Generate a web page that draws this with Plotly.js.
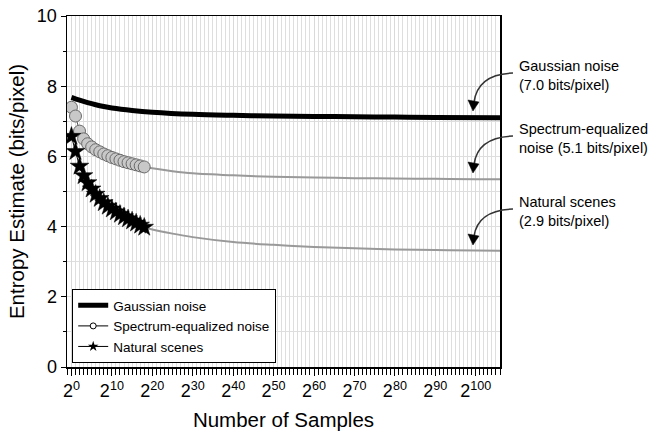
<!DOCTYPE html>
<html><head><meta charset="utf-8">
<script src="https://cdn.plot.ly/plotly-3.0.1.min.js"></script>
<style>html,body{margin:0;padding:0;background:#fff}#chart{width:649px;height:432px}</style>
</head><body><div id="chart"></div>
<script>
// log2(number of samples)
const gaussX = [0, 2, 4, 6, 8, 10, 15, 20, 30, 40, 50, 60, 70, 80, 90, 106];
const gaussY = [7.68, 7.60, 7.53, 7.47, 7.42, 7.38, 7.31, 7.26, 7.20, 7.17, 7.15, 7.14, 7.13, 7.12, 7.11, 7.10];

const specMarkX = [0,1,2,3,4,5,6,7,8,9,10,11,12,13,14,15,16,17,18];
const specMarkY = [7.40, 7.15, 6.72, 6.50, 6.36, 6.27, 6.19, 6.13, 6.07, 6.02, 5.97, 5.93, 5.89, 5.85, 5.82, 5.79, 5.76, 5.73, 5.70];
const specLineX = [18, 20, 25, 30, 40, 50, 60, 70, 80, 90, 100, 106];
const specLineY = [5.70, 5.66, 5.58, 5.52, 5.46, 5.42, 5.40, 5.38, 5.37, 5.36, 5.35, 5.35];

const natMarkX = [0,1,2,3,4,5,6,7,8,9,10,11,12,13,14,15,16,17,18];
const natMarkY = [6.57, 6.14, 5.72, 5.45, 5.25, 5.07, 4.92, 4.80, 4.68, 4.58, 4.50, 4.42, 4.35, 4.28, 4.22, 4.16, 4.10, 4.04, 3.98];
const natLineX = [18, 20, 25, 30, 40, 50, 60, 70, 80, 90, 100, 106];
const natLineY = [3.98, 3.92, 3.80, 3.70, 3.56, 3.48, 3.42, 3.38, 3.35, 3.33, 3.32, 3.31];

const xTickVals = [0,10,20,30,40,50,60,70,80,90,100];
const xTickText = xTickVals.map(v => '2<sup>' + v + '</sup>');
const seriesNames = ['Gaussian noise', 'Spectrum-equalized noise', 'Natural scenes'];
const noteTexts = ['Gaussian noise<br>(7.0 bits/pixel)', 'Spectrum-equalized<br>noise (5.1 bits/pixel)', 'Natural scenes<br>(2.9 bits/pixel)'];

const FONT = 'Arial, "Liberation Sans", sans-serif';
const traces = [
  {x: gaussX, y: gaussY, mode: 'lines', name: seriesNames[0], line: {color: '#000', width: 5, shape: 'spline'}, showlegend: true},
  {x: specLineX, y: specLineY, mode: 'lines', line: {color: '#999', width: 2, shape: 'spline'}, showlegend: false, hoverinfo: 'skip'},
  {x: natLineX, y: natLineY, mode: 'lines', line: {color: '#999', width: 2, shape: 'spline'}, showlegend: false, hoverinfo: 'skip'},
  {x: specMarkX, y: specMarkY, mode: 'lines+markers', showlegend: false, line: {color: '#555', width: 1},
   marker: {symbol: 'circle', size: 12, color: '#c8c8c8', line: {color: '#6a6a6a', width: 1}}},
  {x: natMarkX, y: natMarkY, mode: 'lines+markers', showlegend: false, line: {color: '#000', width: 1},
   marker: {symbol: 'star', size: 14, color: '#000', line: {color: '#000', width: 0.5}}},
  {x: [null], y: [null], mode: 'lines+markers', name: seriesNames[1], line: {color: '#000', width: 1},
   marker: {symbol: 'circle', size: 6, color: '#fff', line: {color: '#000', width: 1}}},
  {x: [null], y: [null], mode: 'lines+markers', name: seriesNames[2], line: {color: '#000', width: 1},
   marker: {symbol: 'star', size: 8, color: '#000'}}
];

// pixel -> paper helpers for the curved annotation arrows (plot area 67..500 x 16..367)
const L = 67, R = 500, T = 16, B = 367;
const px = v => ((v - L) / (R - L)).toFixed(4);
const py = v => ((B - v) / (B - T)).toFixed(4);
function arrow(sx, sy, tx, ty) {
  const cx = tx + 5, cy = sy + 1;
  const ex = tx + 1, ey = ty - 9;
  return [
    {type: 'path', xref: 'paper', yref: 'paper', layer: 'above',
     path: `M ${px(sx)} ${py(sy)} Q ${px(cx)} ${py(cy)} ${px(ex)} ${py(ey)}`,
     line: {color: '#333', width: 1.5}},
    {type: 'path', xref: 'paper', yref: 'paper', layer: 'above',
     path: `M ${px(tx)} ${py(ty)} L ${px(tx-5)} ${py(ty-11)} L ${px(tx+6)} ${py(ty-9)} Z`,
     fillcolor: '#000', line: {color: '#000', width: 0.5}}
  ];
}
const shapes = [].concat(arrow(513, 73, 473, 111), arrow(513, 136, 473, 173), arrow(513, 209, 473, 245));
const noteY = [76, 139, 212];
const annotations = noteTexts.map((t, i) => ({
  xref: 'paper', yref: 'paper', x: px(517), y: py(noteY[i]), xanchor: 'left', yanchor: 'middle',
  align: 'left', showarrow: false, text: t, font: {family: FONT, size: 14.5, color: '#000'}
}));

const layout = {
  width: 649, height: 432,
  margin: {l: 67, r: 149, t: 16, b: 65},
  paper_bgcolor: '#fff', plot_bgcolor: '#fff',
  font: {family: FONT, color: '#000'},
  showlegend: true,
  legend: {x: 0.012, y: 0.222, xanchor: 'left', yanchor: 'top', bgcolor: '#fff', bordercolor: '#000', borderwidth: 1,
           font: {family: FONT, size: 13.5, color: '#000'}, tracegroupgap: 0, itemwidth: 30},
  xaxis: {
    range: [-1.1, 106], tickmode: 'array', tickvals: xTickVals, ticktext: xTickText,
    ticks: 'outside', ticklen: 7, tickwidth: 1, tickcolor: '#000',
    showline: true, linecolor: '#000', linewidth: 1.5, mirror: true,
    showgrid: true, gridcolor: '#d9d9d9', gridwidth: 1, zeroline: false,
    minor: {tickmode: 'linear', tick0: 0, dtick: 1, ticks: 'outside', ticklen: 6, tickcolor: '#000', tickwidth: 1, showgrid: true, gridcolor: '#dedede', gridwidth: 1},
    tickfont: {family: FONT, size: 18, color: '#000'},
    title: {text: 'Number of Samples', font: {family: FONT, size: 20.5, color: '#000'}, standoff: 12}
  },
  yaxis: {
    range: [0, 10], tickmode: 'linear', tick0: 0, dtick: 2,
    ticks: 'outside', ticklen: 5, tickwidth: 1, tickcolor: '#000',
    showline: true, linecolor: '#000', linewidth: 1.5, mirror: true,
    showgrid: true, gridcolor: '#dedede', gridwidth: 1, zeroline: false,
    minor: {tickmode: 'linear', tick0: 1, dtick: 2, ticks: 'outside', ticklen: 3, tickcolor: '#000', showgrid: true, gridcolor: '#dedede'},
    tickfont: {family: FONT, size: 18, color: '#000'},
    title: {text: 'Entropy Estimate (bits/pixel)', font: {family: FONT, size: 20.5, color: '#000'}, standoff: 6}
  },
  shapes: shapes,
  annotations: annotations
};
Plotly.newPlot('chart', traces, layout, {displayModeBar: false, staticPlot: true});
</script></body></html>
